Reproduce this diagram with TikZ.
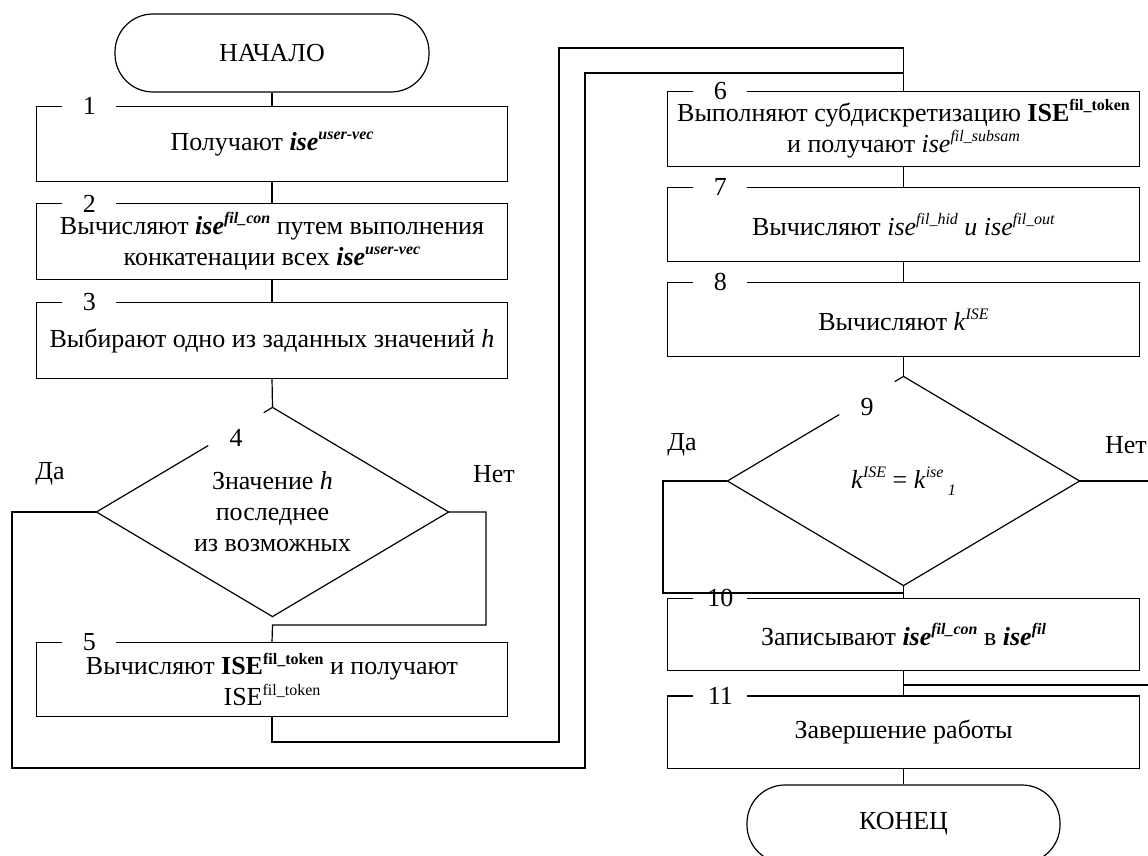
\documentclass[tikz,border=0pt]{standalone}
\usepackage{fontspec}
\setmainfont{Liberation Serif}
\usetikzlibrary{calc,shapes.geometric}
\newcommand\sups[1]{\raisebox{0.42em}{\fontsize{16}{16}\selectfont #1}}
\newcommand\subs[1]{\raisebox{-0.25em}{\fontsize{16}{16}\selectfont #1}}
\newcommand\bi[1]{\textbf{\textit{#1}}}
\newcommand\boxout[1]{\draw ([xshift=26]#1.north west) -- (#1.north west) -- (#1.south west) -- (#1.south east) -- (#1.north east) -- ([xshift=80]#1.north west);}
\newcommand\decout[1]{\draw ($(#1.west)!0.95!(#1.north)$) -- (#1.north) -- (#1.east) -- (#1.south) -- (#1.west) -- ($(#1.west)!0.635!(#1.north)$);}
\begin{document}
\begin{tikzpicture}[x=1pt,y=1pt,line width=1.2pt,
  every node/.style={font=\fontsize{26}{31}\selectfont, inner sep=0pt},
  proc/.style={minimum width=470, minimum height=74, align=center},
  term/.style={draw, rounded corners=38, minimum width=314, minimum height=78},
  dec/.style={diamond, aspect=1.69, minimum width=351, minimum height=208, align=center},
  lbl/.style={}]
\useasboundingbox (0,0) rectangle (1148,-856);
\clip (0,0) rectangle (1148,-856);
% left column
\node[term] (start) at (272,-53) {НАЧАЛО};
\node[proc] (b1) at (272,-144) {Получают \bi{ise}\sups{\bi{user-vec}}};
\node[proc, minimum height=75] (b2) at (272,-241.5) {Вычисляют \bi{ise}\sups{\bi{fil\_con}} путем выполнения\\ конкатенации всех \bi{ise}\sups{\bi{user-vec}}};
\node[proc, minimum height=75] (b3) at (272,-340.5) {Выбирают одно из заданных значений \textit{h}};
\node[dec] (d4) at (272.5,-512) {Значение \textit{h}\\ последнее\\ из возможных};
\node[proc, minimum height=73] (b5) at (272,-679.5) {Вычисляют \textbf{ISE}\sups{\textbf{fil\_token}} и получают\\ ISE\sups{fil\_token}};
% right column
\node[proc, minimum width=471] (b6) at (903.5,-129) {Выполняют субдискретизацию \textbf{ISE}\sups{\textbf{fil\_token}}\\ и получают \textit{ise}\sups{\textit{fil\_subsam}}};
\node[proc, minimum width=471, minimum height=73] (b7) at (903.5,-224.5) {Вычисляют \textit{ise}\sups{\textit{fil\_hid}} \textit{и} \textit{ise}\sups{\textit{fil\_out}}};
\node[proc, minimum width=471, minimum height=73] (b8) at (903.5,-319.5) {Вычисляют \textit{k}\sups{\textit{ISE}}};
\node[dec] (d9) at (903.5,-481) {\textit{k}\sups{\textit{ISE}} = \textit{k}\sups{\textit{ise}}\,\subs{\textit{1}}};
\node[proc, minimum width=471, minimum height=71] (b10) at (903.5,-634.5) {Записывают \bi{ise}\sups{\bi{fil\_con}} в \bi{ise}\sups{\bi{fil}}};
\node[proc, minimum width=471, minimum height=71] (b11) at (903.5,-732) {Завершение работы};
\node[term, minimum width=313] (end) at (903.5,-824) {КОНЕЦ};
% outlines
\boxout{b1}\boxout{b2}\boxout{b3}\boxout{b5}
\boxout{b6}\boxout{b7}\boxout{b8}\boxout{b10}\boxout{b11}
\decout{d4}\decout{d9}
% numbers
\node (n1) at ([xshift=53]b1.north west) {1};
\node (n2) at ([xshift=53]b2.north west) {2};
\node (n3) at ([xshift=53]b3.north west) {3};
\node (n4) at (236,-438) {4};
\node (n5) at ([xshift=53]b5.north west) {5};
\node (n6) at ([xshift=53]b6.north west) {6};
\node (n7) at ([xshift=53]b7.north west) {7};
\node (n8) at ([xshift=53]b8.north west) {8};
\node (n9) at (867,-407) {9};
\node (n10) at ([xshift=53]b10.north west) {10};
\node (n11) at ([xshift=53]b11.north west) {11};
% yes / no labels
\node[lbl] (y4) at (50,-474) {Да};
\node[lbl] (no4) at (494,-474) {Нет};
\node[lbl] (y9) at (682,-445) {Да};
\node[lbl] (no9) at (1126,-445) {Нет};
% coordinates
\coordinate (j5) at (272.5,-625);
\coordinate (t48) at (903.5,-48);
\coordinate (t73) at (903.5,-73);
\coordinate (j10) at (903.5,-593);
\coordinate (j11) at (903.5,-685);
% connectors
\draw (start.south) -- (b1.north);
\draw (b1.south) -- (b2.north);
\draw (b2.south) -- (b3.north);
\draw (b3.south) -- (d4.north);
\draw (d4.east) -| (486,-625) -- (j5) -- (b5.north);
\draw (d4.west) -| (12,-768) -| (585,-73) -- (t73);
\draw (b5.south) |- (559,-742) |- (t48) -- (b6.north);
\draw (b6.south) -- (b7.north);
\draw (b7.south) -- (b8.north);
\draw (b8.south) -- (d9.north);
\draw (d9.south) -- (b10.north);
\draw (d9.west) -| (663,-593) -- (j10);
\draw (d9.east) -| (1180,-685) -- (j11);
\draw (b10.south) -- (b11.north);
\draw (b11.south) -- (end.north);
\end{tikzpicture}
\end{document}
